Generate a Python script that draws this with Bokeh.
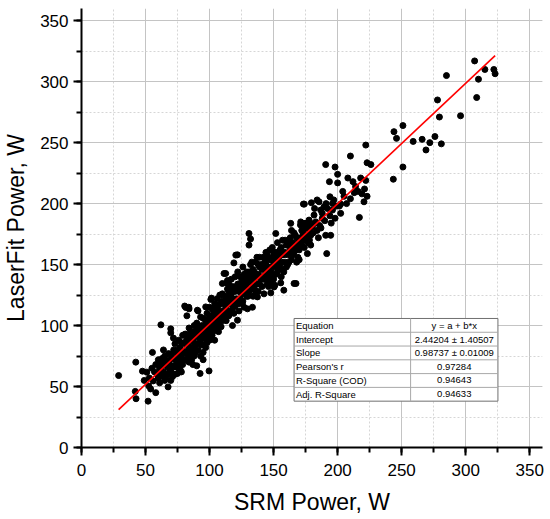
from bokeh.plotting import figure
from bokeh.models import SingleIntervalTicker, Range1d, ColumnDataSource
from bokeh.core.properties import value
from bokeh.embed import file_html
from bokeh.resources import INLINE

# ---------------- data (SRM Power, LaserFit Power) ----------------
pts_low = [(29,59),(42,46),(42.6,40),(42.4,70),(47.6,62.6),(51,61.8),(52,38),(52.5,50.5),(55.4,78),(56,54.6),
           (58,45),(53,57),(57,62),(59,60),(55,65),(58,68),(60,57),(61,53),(49,55),(54,48)]
pts_60 = [(62,100.6),(60,72),(61,65),(62,60),(63,68),(64,62),(65,75),(63,73),(66,58),(67,66),(67.6,49.7),(68,70),
          (69,63),(69.7,55),(69.7,94),(69.7,97.3),(64,80),(66,71),(68,77),(62,64),(65,55),(67,60),(69,72),(61,70),(64,58)]
pts_70 = [(71.8,89.7),(70,62),(71,67),(72,73),(73,60),(74,78),(75,60.7),(75,70),(76,65),(77,82),(78,74),(79,68),
          (72,80),(73,85),(76,88),(78,62),(79,77),(70,76),(71,58),(74,66),(76,75),(77,70),(78,86),(79,92),(75,80),
          (72,66),(74,71),(77,64),(80,72),(80,79)]
pts_80 = [(80.6,116),(81.4,114.8),(82.3,108),(83.8,115),(84,113.7),(81,85),(82,78),(83,92),(84,70),(85,88),(86,80),
          (87,95),(88,75),(89,84),(81,93),(82,72),(83,84),(84,98),(85,76),(86,90),(87,82),(88,100),(89,91),
          (86,72),(84,80),(82,88),(85,94),(87,68),(88,86),(89,78),(83,76),(85,82),(87,89)]
pts_90 = [(90.5,112.6),(91,112),(92.6,60.7),(99.6,62.8),(90,67),(91,85),(92,95),(93,88),(94,100),(95,78),(96,92),
          (97,104),(98,86),(99,97),(90,102),(91,80),(92,90),(93,98),(94,84),(95,106),(96,96),(97,89),(98,110),
          (99,93),(100,100),(97,115.3),(93,75),(95,72),(94,92),(96,84),(98,100),(99,105),(91,94),(92,99),(97,82),
          (100,88),(93,107),(90,96)]
pts_100 = [(101,121.4),(101.5,122.5),(100,108),(101,96),(102,104),(103,112),(104,98),(105,106),(106,115),(107,102),
           (108,110),(109,118),(110,104),(101,90),(102,114),(103,100),(104,108),(105,96),(106,109),(107,117),
           (108,100),(109,112),(110,120),(110,134.5),(104,118),(106,103),(108,106),(102,92),(105,112),(107,95),
           (109,99),(103,106),(104,88),(106,122),(100,115),(108,125)]
pts_110 = [(111.3,142.7),(112.6,142.7),(113.4,135),(114,137),(117.9,100),(119,110),(110,110),(111,118),(112,105),
           (113,122),(114,112),(115,128),(116,118),(117,126),(118,114),(119,130),(111,108),(112,124),(113,116),
           (114,130),(115,108),(116,124),(117,112),(118,132),(119,120),(120,116),(119,151.4),(112,113),(114,120),
           (116,110),(118,122),(115,134),(117,138),(110,126),(113,104)]
pts_120 = [(120.5,157.8),(121.8,158),(121.8,104.4),(120,128),(121,122),(122,134),(123,118),(124,140),(125,126),
           (126,132),(127,115),(128,138),(129,124),(125.6,118),(129.6,113.7),(120,140),(121,132),(122,120),
           (123,128),(124,122),(125,136),(126,128),(127,142),(128,126),(129,134),(130,130),(122,144),(124,130),
           (126,120),(128,132),(130,140),(123,112),(126,148),(129,144)]
pts_130 = [(130.8,175.5),(130.8,166),(132,171),(133.5,115),(137.4,123.5),(130,124),(131,136),(132,142),(133,130),
           (134,146),(135,136),(136,152),(137,140),(138,128),(139,148),(140,138),(131,128),(132,150),(133,138),
           (134,132),(135,144),(136,128),(137,156),(138,142),(139,134),(140,150),(131,144),(133,152),(135,130),
           (137,134),(139,156),(134,124),(136,140),(138,150)]
pts_140 = [(142.5,126),(147.8,126.8),(141,146),(142,138),(143,152),(144,142),(145,158),(146,132),(147,148),
           (148,154),(149,140),(150,150),(141,132),(142,156),(143,140),(144,160),(145,146),(146,138),(147,162),
           (148,144),(149,156),(150,138),(141,140),(143,148),(145,134),(147,140),(149,164),(144,150),(146,154),
           (150,160),(148,136)]
pts_150 = [(150.4,131.7),(151,133),(151.7,175.5),(155.6,135),(158,129),(151,148),(152,160),(153,144),(154,156),
           (155,150),(156,164),(157,146),(158,158),(159,152),(160,166),(151,154),(152,142),(153,168),(154,148),
           (155,162),(156,152),(157,170),(158,144),(159,160),(160,148),(153,158),(156,140),(157,158),(159,170),
           (152,152)]
pts_160 = [(163.4,183.8),(166,134.5),(167.5,134.5),(170,154),(161,158),(162,170),(163,162),(164,154),(165,168),
           (166,160),(167,174),(168,164),(169,156),(170,170),(161,166),(162,152),(163,172),(164,164),(165,158),
           (166,176),(167,162),(168,172),(169,166),(170,162),(164,178),(168,152),(161,150)]
pts_170 = [(171.2,185),(173.3,199.6),(176.4,159),(171,182.5),(173.8,183.8),(177.7,186.5),(179.5,200.7),(174,199.6),
           (171,172),(172,166),(173,176),(174,170),(175,180),(176,172),(177,168),(178,178),(179,174),(180,182),
           (172,178),(174,164),(175,174),(177,180),(178,170),(180.3,181),(179,166),(176,184)]
pts_180 = [(181.6,190.6),(183,185),(184,203),(185.5,201.5),(186.8,194.7),(188,187.9),(189.4,197.4),(190.7,174),
           (191.5,159),(194.6,174),(190.7,232),(193.6,218),(194,205.6),(196,194.7),(197,203),(198,230),(200,224),
           (200,217),(181,176),(182,184),(184,178),(186,182),(188,192),(190,186),(192,196),(194,190),(196,200),
           (198,188),(182,196),(185,172),(187,180),(191,200),(195,184),(199,198)]
pts_200 = [(201.4,198),(202.4,199.6),(202.4,192),(208,221),(210,239),(212,218),(214,214),(216,210),(217,188.7),
           (218,221),(219,208),(220.6,201.5),(221,212),(222,219),(222,248),(223,233.5),(223,206),(226,232),
           (213,209),(205,206),(207,200),(204,210),(210,204)]
pts_high = [(243.5,220),(244,259),(246,253.5),(251,230),(251,264),(259,251),(266,252.7),(269,244),(272,250),
            (276,255),(281,249),(278,285),(279.5,271),(285,305),(296,272),(307,317),(308.6,287),(310,302),
            (315,310),(322,310),(323,306.5)]

intercept = 2.44204
slope = 0.98737

table_labels = ["Equation", "Intercept", "Slope", "Pearson's r", "R-Square (COD)", "Adj. R-Square"]
table_values = ["y = a + b*x", "2.44204 \u00b1 1.40507", "0.98737 \u00b1 0.01009", "0.97284", "0.94643", "0.94633"]

all_pts = (pts_low + pts_60 + pts_70 + pts_80 + pts_90 + pts_100 + pts_110 + pts_120 + pts_130 +
           pts_140 + pts_150 + pts_160 + pts_170 + pts_180 + pts_200 + pts_high)
srm = [a for a, b in all_pts]
laser = [b for a, b in all_pts]

FONT = "Liberation Sans"

p = figure(width=550, height=519, x_range=Range1d(0, 360), y_range=Range1d(0, 360),
           output_backend="svg", toolbar_location=None,
           min_border_left=81, min_border_right=8, min_border_top=8, min_border_bottom=72)
p.outline_line_color = None
p.background_fill_color = "white"
p.border_fill_color = "white"

for ax, grid in ((p.xaxis[0], p.xgrid[0]), (p.yaxis[0], p.ygrid[0])):
    t = SingleIntervalTicker(interval=50, num_minor_ticks=2)
    ax.ticker = t
    grid.ticker = t
    ax.axis_line_color = "black"
    ax.axis_line_width = 2
    ax.major_tick_line_color = "black"
    ax.major_tick_line_width = 2
    ax.major_tick_out = 8
    ax.major_tick_in = 0
    ax.minor_tick_line_color = "black"
    ax.minor_tick_line_width = 2
    ax.minor_tick_out = 5
    ax.minor_tick_in = 0
    ax.major_label_text_font = FONT
    ax.major_label_text_font_size = "17px"
    ax.major_label_text_color = "black"
    ax.axis_label_text_font = FONT
    ax.axis_label_text_font_size = "23px"
    ax.axis_label_text_font_style = "normal"
    ax.axis_label_text_color = "black"
    grid.grid_line_color = "#c4c4c4"
    grid.grid_line_width = 1
    grid.minor_grid_line_color = "#d6d6d6"
    grid.minor_grid_line_dash = "2 2"
    grid.minor_grid_line_width = 1

p.xaxis.axis_label = "SRM Power, W"
p.yaxis.axis_label = "LaserFit Power, W"
p.xaxis.major_label_standoff = 8
p.yaxis.major_label_standoff = 5
p.xaxis.axis_label_standoff = 10
p.yaxis.axis_label_standoff = 8

src = ColumnDataSource(dict(x=srm, y=laser))
p.scatter("x", "y", source=src, size=6, color="black", line_color="black")

fx = [min(srm), max(srm)]
fy = [intercept + slope * v for v in fx]
p.line(fx, fy, line_color="#ff0000", line_width=1.6)

# ---------------- statistics table ----------------
tx0, tx1, tdiv = 166, 325.2, 257
ttop, rowh = 105.8, 11.3
n = len(table_labels)
p.quad(left=[tx0], right=[tx1], top=[ttop], bottom=[ttop - n * rowh],
       fill_color="white", line_color="#707070", line_width=1)
p.segment(x0=[tx0] * (n - 1), x1=[tx1] * (n - 1),
          y0=[ttop - (i + 1) * rowh for i in range(n - 1)],
          y1=[ttop - (i + 1) * rowh for i in range(n - 1)],
          line_color="#a8a8a8", line_width=1)
p.segment(x0=[tdiv], x1=[tdiv], y0=[ttop], y1=[ttop - n * rowh], line_color="#a8a8a8", line_width=1)
rows_y = [ttop - (i + 0.5) * rowh for i in range(n)]
p.text(x=[tx0 + 1.5] * n, y=rows_y, text=table_labels, text_font=value(FONT),
       text_font_size=value("9.5px"), text_baseline="middle", text_align="left", text_color="black")
p.text(x=[(tdiv + tx1) / 2] * n, y=rows_y, text=table_values, text_font=value(FONT),
       text_font_size=value("9.5px"), text_baseline="middle", text_align="center", text_color="black")

open("out.html", "w").write(file_html(p, INLINE))
